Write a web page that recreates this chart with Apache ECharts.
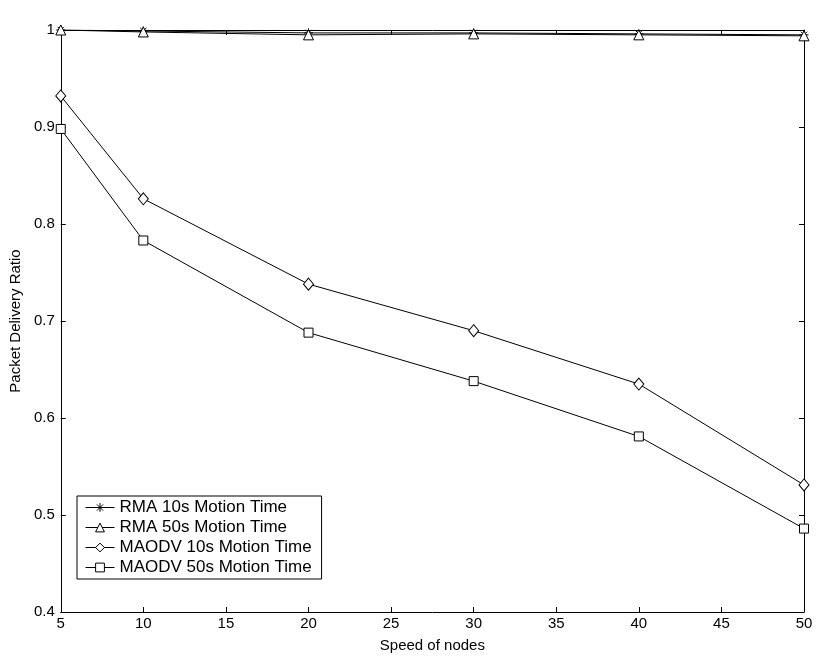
<!DOCTYPE html>
<html>
<head>
<meta charset="utf-8">
<script src="https://cdn.jsdelivr.net/npm/echarts@6/dist/echarts.min.js"></script>
<style>
html,body{margin:0;padding:0;background:#fff;}
#chart{width:828px;height:662px;}
</style>
</head>
<body>
<div id="chart"></div>
<script>
const speeds = [5, 10, 20, 30, 40, 50];
const rma10 = [1.0, 0.999, 0.997, 0.997, 0.996, 0.995];
const rma50 = [1.0, 0.998, 0.995, 0.996, 0.995, 0.994];
const maodv10 = [0.932, 0.826, 0.738, 0.690, 0.635, 0.531];
const maodv50 = [0.898, 0.783, 0.688, 0.638, 0.581, 0.486];
const seriesNames = ['RMA 10s Motion Time', 'RMA 50s Motion Time', 'MAODV 10s Motion Time', 'MAODV 50s Motion Time'];

const FONT = 'Liberation Sans, Arial, Helvetica, sans-serif';
const asterisk = 'path://M0,5L10,5M5,0L5,10M1.5,1.5L8.5,8.5M8.5,1.5L1.5,8.5';

function pairs(vals){ return speeds.map((s,i)=>[s, vals[i]]); }

function mk(name, vals, symbol, size){
  return {
    name: name, type: 'line', data: pairs(vals),
    symbol: symbol, symbolSize: size, showSymbol: true,
    lineStyle: {color:'#000', width:1},
    itemStyle: {color:'#fff', borderColor:'#000', borderWidth:1},
    emphasis: {disabled:true}, animation:false, z: 3
  };
}

const chart = echarts.init(document.getElementById('chart'), null, {renderer:'canvas'});
const axisCommon = {
  axisLine: {show:true, lineStyle:{color:'#000', width:1}},
  axisTick: {show:true, inside:true, length:5, lineStyle:{color:'#000'}},
  splitLine: {show:false}
};
chart.setOption({
  backgroundColor: '#fff',
  animation: false,
  grid: {left:59, right:24, top:30, bottom:50, containLabel:false},
  xAxis: [
    Object.assign({
      type:'value', min:5, max:50, interval:5,
      name:'Speed of nodes', nameLocation:'middle', nameGap:26,
      nameTextStyle:{color:'#000', fontSize:15, fontFamily:FONT},
      axisLabel:{color:'#000', fontSize:15, fontFamily:FONT, margin:4}
    }, axisCommon),
    Object.assign({
      type:'value', min:5, max:50, interval:5, position:'top',
      axisLabel:{show:false}
    }, axisCommon)
  ],
  yAxis: [
    Object.assign({
      type:'value', min:0.4, max:1, interval:0.1,
      name:'Packet Delivery Ratio', nameLocation:'middle', nameGap:35,
      nameTextStyle:{color:'#000', fontSize:15, fontFamily:FONT},
      axisLabel:{color:'#000', fontSize:15, fontFamily:FONT, margin:6}
    }, axisCommon),
    Object.assign({
      type:'value', min:0.4, max:1, interval:0.1, position:'right',
      axisLabel:{show:false}
    }, axisCommon)
  ],
  legend: {
    orient:'vertical', left:77, top:496,
    data: seriesNames,
    backgroundColor:'#fff', borderColor:'#000', borderWidth:1,
    padding:[3, 10, 3, 8], itemGap:3, itemWidth:29, itemHeight:11,
    lineStyle:{width:1},
    itemStyle:{borderWidth:1},
    textStyle:{color:'#000', fontSize:17, fontFamily:FONT, lineHeight:14},
    selectedMode:false
  },
  series: [
    mk(seriesNames[0], rma10, asterisk, 9),
    mk(seriesNames[1], rma50, 'triangle', 10),
    mk(seriesNames[2], maodv10, 'diamond', [10,12]),
    mk(seriesNames[3], maodv50, 'rect', 9)
  ]
});
</script>
</body>
</html>
